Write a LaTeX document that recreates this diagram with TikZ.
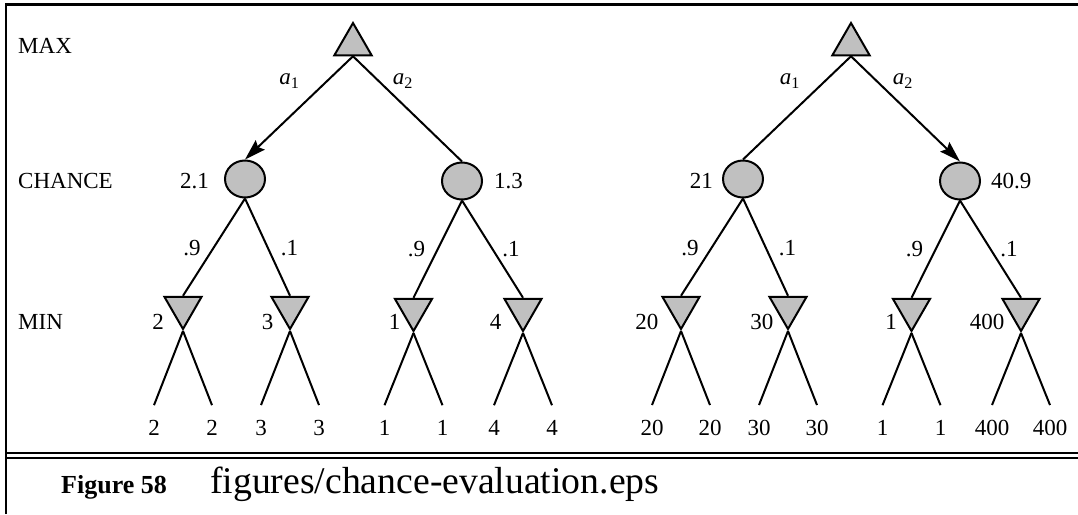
\documentclass[tikz,border=0pt]{standalone}
\usepackage{fontspec}
\setmainfont{Liberation Serif}
\usetikzlibrary{shapes.geometric,arrows.meta}
\definecolor{nodegray}{RGB}{192,192,192}

\begin{document}
\begin{tikzpicture}[x=1pt,y=-1pt,font=\fontsize{23}{27}\selectfont]
    % 定义样式
    \tikzstyle{maxnode}=[regular polygon, regular polygon sides=3, draw, line width=2pt, fill=nodegray, inner sep=0pt, minimum size=43pt]
    \tikzstyle{minnode}=[maxnode, regular polygon rotate=180]
    \tikzstyle{chancenode}=[ellipse, draw, line width=2pt, fill=nodegray, inner sep=0pt, minimum width=40pt, minimum height=37pt]
    \tikzstyle{edge}=[line width=2pt]
    \tikzstyle{choice}=[line width=2pt, -{Stealth[length=21pt,width=13pt,inset=3pt]}]
    \tikzstyle{leafval}=[inner xsep=0pt, inner ysep=15pt]
    \tikzstyle{val}=[inner sep=0pt]

    % 外框
    \useasboundingbox (0,0) rectangle (1078,514);
    \draw[line width=2.5pt] (6,514) -- (6,4.5) -- (1078,4.5);
    \draw[line width=2.5pt] (6,453) -- (1078,453);
    \draw[line width=2.5pt] (6,458) -- (1078,458);

    % 层次名称
    \node[val, anchor=base west] (lvmax) at (18,53.3) {MAX};
    \node[val, anchor=base west] (lvchance) at (18,188.5) {CHANCE};
    \node[val, anchor=base west] (lvmin) at (18,329.5) {MIN};

    % 左树
    \node[maxnode] (maxL) at (353,44.5) {};
    \node[chancenode] (cL1) at (245,179) {};
    \node[chancenode] (cL2) at (462,181) {};
    \node[minnode] (mL1) at (183,307.5) {};
    \node[minnode] (mL2) at (290,307.5) {};
    \node[minnode] (mL3) at (413.5,309.5) {};
    \node[minnode] (mL4) at (523,309.5) {};

    \draw[choice] (maxL.side 2) -- (cL1.north);
    \draw[edge] (maxL.side 2) -- (cL2.north);
    \node at (289.5,81) {$\mathit{a}_{\mathrm{1}}$};
    \node at (403,81) {$\mathit{a}_{\mathrm{2}}$};

    \draw[edge] (cL1.south) -- (mL1.side 2);
    \draw[edge] (cL1.south) -- (mL2.side 2);
    \draw[edge] (cL2.south) -- (mL3.side 2);
    \draw[edge] (cL2.south) -- (mL4.side 2);
    \node at (192,248) {.9};
    \node at (289.5,248) {.1};
    \node at (416.5,249) {.9};
    \node at (511,249) {.1};

    \node[val, anchor=base east] (vcL1) at (209,188.5) {2.1};
    \node[val, anchor=base west] (vcL2) at (494,188.5) {1.3};
    \node[val, anchor=base east] (vmL1) at (164,329.5) {2};
    \node[val, anchor=base east] (vmL2) at (273.5,329.5) {3};
    \node[val, anchor=base east] (vmL3) at (400.5,329.5) {1};
    \node[val, anchor=base east] (vmL4) at (501.5,329.5) {4};

    % 左树叶子
    \node[leafval] (lL1a) at (154,428) {2};
    \node[leafval] (lL1b) at (212,428) {2};
    \node[leafval] (lL2a) at (261,428) {3};
    \node[leafval] (lL2b) at (319,428) {3};
    \node[leafval] (lL3a) at (384.5,428) {1};
    \node[leafval] (lL3b) at (442.5,428) {1};
    \node[leafval] (lL4a) at (494,428) {4};
    \node[leafval] (lL4b) at (552,428) {4};
    \draw[edge] (mL1.corner 1) -- (lL1a.north);
    \draw[edge] (mL1.corner 1) -- (lL1b.north);
    \draw[edge] (mL2.corner 1) -- (lL2a.north);
    \draw[edge] (mL2.corner 1) -- (lL2b.north);
    \draw[edge] (mL3.corner 1) -- (lL3a.north);
    \draw[edge] (mL3.corner 1) -- (lL3b.north);
    \draw[edge] (mL4.corner 1) -- (lL4a.north);
    \draw[edge] (mL4.corner 1) -- (lL4b.north);

    % 右树
    \node[maxnode] (maxR) at (851,44.5) {};
    \node[chancenode] (cR1) at (743,179) {};
    \node[chancenode] (cR2) at (960,181) {};
    \node[minnode] (mR1) at (681,307.5) {};
    \node[minnode] (mR2) at (788,307.5) {};
    \node[minnode] (mR3) at (911.5,309.5) {};
    \node[minnode] (mR4) at (1021,309.5) {};

    \draw[edge] (maxR.side 2) -- (cR1.north);
    \draw[choice] (maxR.side 2) -- (cR2.north);
    \node at (790,81) {$\mathit{a}_{\mathrm{1}}$};
    \node at (903,81) {$\mathit{a}_{\mathrm{2}}$};

    \draw[edge] (cR1.south) -- (mR1.side 2);
    \draw[edge] (cR1.south) -- (mR2.side 2);
    \draw[edge] (cR2.south) -- (mR3.side 2);
    \draw[edge] (cR2.south) -- (mR4.side 2);
    \node at (690,248) {.9};
    \node at (787.5,248) {.1};
    \node at (914.5,249) {.9};
    \node at (1009,249) {.1};

    \node[val, anchor=base east] (vcR1) at (713,188.5) {21};
    \node[val, anchor=base west] (vcR2) at (991,188.5) {40.9};
    \node[val, anchor=base east] (vmR1) at (658.5,329.5) {20};
    \node[val, anchor=base east] (vmR2) at (773.5,329.5) {30};
    \node[val, anchor=base east] (vmR3) at (897,329.5) {1};
    \node[val, anchor=base east] (vmR4) at (1004.5,329.5) {400};

    % 右树叶子
    \node[leafval] (lR1a) at (652,428) {20};
    \node[leafval] (lR1b) at (710,428) {20};
    \node[leafval] (lR2a) at (759,428) {30};
    \node[leafval] (lR2b) at (817,428) {30};
    \node[leafval] (lR3a) at (882.5,428) {1};
    \node[leafval] (lR3b) at (940.5,428) {1};
    \node[leafval] (lR4a) at (992,428) {400};
    \node[leafval] (lR4b) at (1050,428) {400};
    \draw[edge] (mR1.corner 1) -- (lR1a.north);
    \draw[edge] (mR1.corner 1) -- (lR1b.north);
    \draw[edge] (mR2.corner 1) -- (lR2a.north);
    \draw[edge] (mR2.corner 1) -- (lR2b.north);
    \draw[edge] (mR3.corner 1) -- (lR3a.north);
    \draw[edge] (mR3.corner 1) -- (lR3b.north);
    \draw[edge] (mR4.corner 1) -- (lR4a.north);
    \draw[edge] (mR4.corner 1) -- (lR4b.north);

    % 图题
    \node[val, anchor=base west, font=\fontsize{26}{30}\selectfont\bfseries] (fignum) at (61,493) {Figure 58};
    \node[val, anchor=base west, font=\fontsize{37.7}{42}\selectfont] (figfile) at (210,493) {figures/chance-evaluation.eps};
\end{tikzpicture}
\end{document}
